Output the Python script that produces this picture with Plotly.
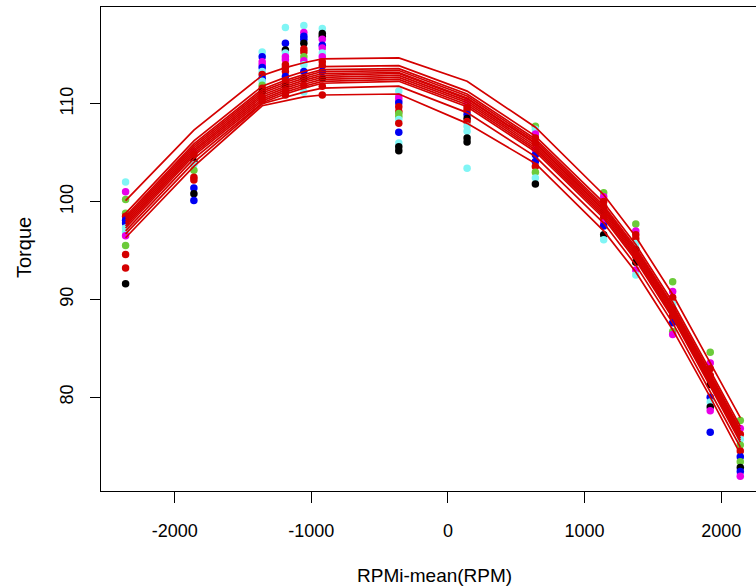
import plotly.graph_objects as go

# centred RPM positions
rpm_c = [-2360, -1860, -1360, -1190, -1055, -920, -360, 140, 640, 1140, 1375, 1645, 1920, 2140]

# observed torque per RPM position, with colour code per point
obs_y = [
    [102.0, 101.0, 100.2, 98.8, 98.5, 98.1, 97.8, 97.3, 96.9, 96.5, 95.5, 94.6, 93.2, 91.6],
    [105.1, 104.8, 104.1, 103.8, 103.2, 102.5, 102.2, 101.4, 100.8, 100.1],
    [115.3, 114.8, 114.3, 114.0, 113.7, 113.3, 113.0, 112.6, 112.3, 111.9, 111.6, 111.2, 110.7, 110.3],
    [117.8, 116.2, 115.5, 115.2, 114.8, 114.5, 114.0, 113.7, 113.3, 112.8, 112.3, 111.8, 111.3, 110.9],
    [118.0, 117.3, 116.9, 116.6, 116.2, 115.6, 115.3, 114.8, 114.4, 114.0, 113.3, 112.6, 111.9, 111.2],
    [117.7, 117.2, 116.9, 116.6, 116.0, 115.7, 115.2, 114.8, 114.3, 113.9, 113.3, 112.6, 111.8, 110.9],
    [111.3, 110.7, 110.4, 110.1, 109.7, 109.2, 109.0, 108.7, 108.4, 108.0, 107.1, 106.0, 105.6, 105.2],
    [110.2, 109.9, 109.6, 109.3, 108.9, 108.5, 108.2, 107.7, 107.2, 106.5, 106.1, 103.4],
    [107.7, 107.4, 106.9, 106.5, 106.0, 105.3, 104.8, 104.1, 103.6, 103.0, 102.4, 101.8],
    [100.9, 100.5, 100.0, 99.5, 99.0, 98.4, 97.8, 97.5, 96.6, 96.1],
    [97.7, 97.0, 96.6, 96.2, 95.7, 95.1, 94.4, 93.8, 93.0, 92.5],
    [91.8, 90.8, 90.2, 89.5, 89.0, 88.3, 87.6, 86.7, 86.4],
    [84.6, 83.5, 82.9, 82.2, 81.3, 80.0, 79.5, 79.0, 78.6, 76.4],
    [77.6, 76.8, 76.2, 75.7, 75.1, 74.5, 73.9, 73.4, 72.8, 72.4, 71.9],
]
obs_c = [
    "cmggrbbccmgrrk",
    "mrkcgrrbkb",
    "cbmmbcrbcgrkrr",
    "cbkcmmrrrbrkrr",
    "cmbbkrrgmcbkrc",
    "ckkmbmcmrrbkrr",
    "cmmbrrggcrbckk",
    "mmrrbkrcckkc",
    "gcmrrmbbrgck",
    "gmrrkrmbkc",
    "gmrrckrkmc",
    "gmrckrbgm",
    "gmrrkbckmb",
    "gmrcgrbgkbm",
]

# fitted curves, one per subject
fit_lines = [
    [100.1, 107.3, 112.9, 113.7, 114.2, 114.6, 114.7, 112.3, 107.6, 100.7, 96.4, 90.5, 83.5, 77.9],
    [98.8, 106.2, 111.8, 112.7, 113.3, 113.8, 113.9, 111.3, 106.7, 99.9, 95.6, 89.7, 82.7, 77.0],
    [98.5, 105.9, 111.5, 112.4, 113.0, 113.5, 113.6, 111.0, 106.4, 99.6, 95.3, 89.4, 82.4, 76.7],
    [98.3, 105.7, 111.3, 112.2, 112.8, 113.3, 113.4, 110.8, 106.2, 99.4, 95.1, 89.2, 82.2, 76.5],
    [98.1, 105.5, 111.1, 112.0, 112.6, 113.1, 113.2, 110.6, 106.0, 99.2, 94.9, 89.0, 82.0, 76.3],
    [97.9, 105.3, 110.9, 111.8, 112.4, 112.9, 113.1, 110.5, 105.9, 99.1, 94.8, 88.9, 81.9, 76.2],
    [97.7, 105.1, 110.7, 111.6, 112.2, 112.7, 112.9, 110.3, 105.7, 98.9, 94.6, 88.7, 81.7, 76.0],
    [97.5, 104.9, 110.5, 111.4, 112.0, 112.5, 112.7, 110.1, 105.5, 98.7, 94.4, 88.5, 81.5, 75.8],
    [97.3, 104.7, 110.3, 111.2, 111.8, 112.3, 112.5, 109.9, 105.3, 98.5, 94.2, 88.3, 81.3, 75.6],
    [97.0, 104.4, 110.1, 111.0, 111.6, 112.1, 112.3, 109.7, 105.1, 98.3, 94.0, 88.1, 81.1, 75.4],
    [96.7, 104.0, 110.0, 110.7, 111.2, 111.6, 111.8, 109.1, 104.6, 97.8, 93.5, 87.6, 80.6, 74.9],
    [96.3, 103.6, 109.8, 110.3, 110.7, 110.9, 111.0, 108.0, 103.9, 97.0, 92.8, 86.9, 80.0, 74.2],
]

x_ticks = [-2000, -1000, 0, 1000, 2000]
y_ticks = [80, 90, 100, 110]

palette = {"k": "#000000", "r": "#D40000", "g": "#6CCB3A", "b": "#0000F2",
           "c": "#80F5F5", "m": "#E800E8"}
line_color = "#D40000"
FONT = "Liberation Sans, Arial, Helvetica, sans-serif"

fig = go.Figure()

px, py, pc = [], [], []
for xv, ys, cs in zip(rpm_c, obs_y, obs_c):
    for yv, cc in zip(ys, cs):
        px.append(xv)
        py.append(yv)
        pc.append(palette[cc])
fig.add_trace(go.Scatter(x=px, y=py, mode="markers",
                         marker=dict(size=7.5, color=pc, line=dict(width=0)),
                         showlegend=False, hoverinfo="skip"))

for ln in fit_lines:
    fig.add_trace(go.Scatter(x=rpm_c, y=ln, mode="lines",
                             line=dict(color=line_color, width=1.7),
                             showlegend=False, hoverinfo="skip"))

fig.update_layout(
    width=756, height=588,
    margin=dict(l=101, r=0, t=7, b=97),
    paper_bgcolor="white", plot_bgcolor="white",
    font=dict(family=FONT, size=18, color="black"),
    xaxis=dict(range=[-2540, 2255], tickvals=x_ticks, ticktext=[str(v) for v in x_ticks],
               ticks="outside", ticklen=11, tickwidth=1, tickcolor="black",
               showline=True, linecolor="black", linewidth=1, mirror=True,
               showgrid=False, zeroline=False, ticklabelstandoff=12,
               tickfont=dict(size=18)),
    yaxis=dict(range=[70.4, 119.9], tickvals=y_ticks, ticktext=[str(v) for v in y_ticks],
               ticks="outside", ticklen=10, tickwidth=1, tickcolor="black",
               showline=True, linecolor="black", linewidth=1, mirror=False,
               showgrid=False, zeroline=False, tickangle=-90, ticklabelstandoff=10,
               tickfont=dict(size=18)),
    annotations=[
        dict(text="RPMi-mean(RPM)", xref="paper", yref="paper",
             x=(434 - 101) / 655, y=(491 - 575) / 484, xanchor="center", yanchor="middle",
             showarrow=False, font=dict(size=19)),
        dict(text="Torque", xref="paper", yref="paper",
             x=(24 - 101) / 655, y=(491 - 248) / 484, xanchor="center", yanchor="middle",
             textangle=-90, showarrow=False, font=dict(size=20)),
    ],
)

fig.write_html("out.html")
